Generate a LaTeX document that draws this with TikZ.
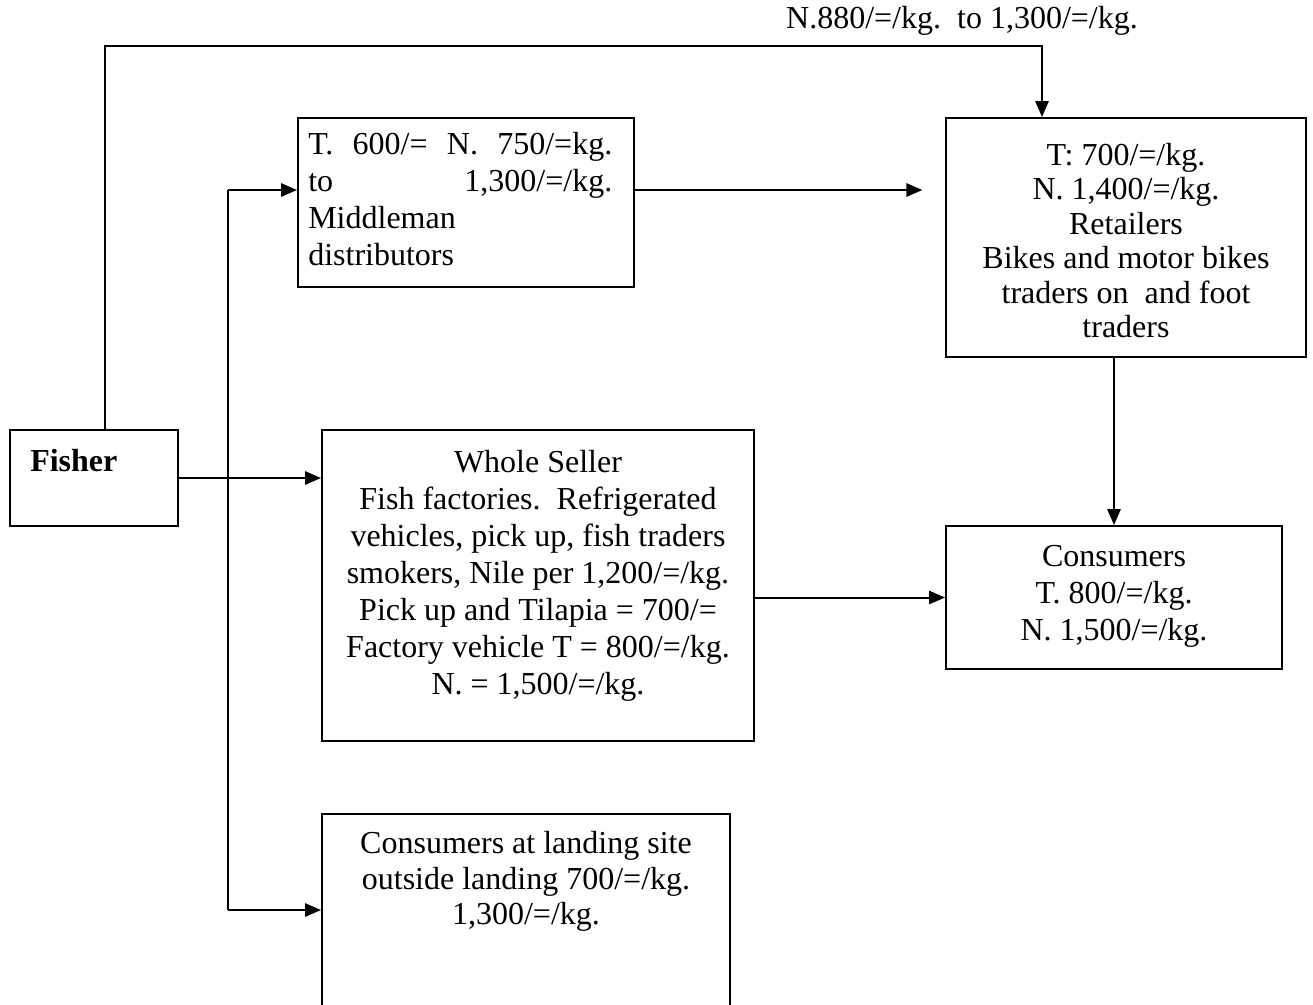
\documentclass[tikz,border=0pt]{standalone}
\usepackage{fontspec}
\setmainfont{Liberation Serif}
\usetikzlibrary{arrows.meta,positioning}

\begin{document}
\begin{tikzpicture}[x=0.75pt,y=-0.75pt,
    box/.style={draw,line width=1.5pt,inner sep=0pt},
    txt/.style={inner sep=0pt,font=\fontsize{24}{27.8}\selectfont,
        execute at begin node={\rule{0pt}{18pt}}},
    arr/.style={line width=1.5pt,-{Triangle[length=12pt,width=10pt]}}]
    \useasboundingbox (0,0) rectangle (1313,1004);
    %% boxes
    \node[box,minimum width=126pt,minimum height=72pt] (fisher) at (94,478) {};
    \node[box,minimum width=252pt,minimum height=126.75pt] (mid) at (466,202.5) {};
    \node[box,minimum width=270pt,minimum height=179.25pt] (ret) at (1126,237.5) {};
    \node[box,minimum width=324pt,minimum height=233.25pt] (whole) at (538,585.5) {};
    \node[box,minimum width=252pt,minimum height=107.25pt] (cons) at (1114,597.5) {};
    \node[box,minimum width=306pt,minimum height=172.5pt] (land) at (526,929) {};
    %% texts
    \node[txt,anchor=north west] (fisher-t) at (30,447) {\bfseries Fisher};
    \node[txt,anchor=north west,align=left] (mid-t) at (308,132)
        {\makebox[228pt][s]{T.\ \ 600/=\ \ N.\ \ 750/=kg.}\\
         \makebox[228pt][s]{to 1,300/=/kg.}\\
         Middleman\\
         distributors};
    \node[txt,anchor=north,align=center,font=\fontsize{24}{25.8}\selectfont] (ret-t) at (1126,143)
        {T: 700/=/kg.\\ N. 1,400/=/kg.\\ Retailers\\ Bikes and motor bikes\\
         traders on\ \ and foot\\ traders};
    \node[txt,anchor=north,align=center] (whole-t) at (538,450)
        {Whole Seller\\ Fish factories.\ \ Refrigerated\\ vehicles, pick up, fish traders\\
         smokers, Nile per 1,200/=/kg.\\ Pick up and Tilapia = 700/=\\
         Factory vehicle T = 800/=/kg.\\ N. = 1,500/=/kg.};
    \node[txt,anchor=north,align=center] (cons-t) at (1114,545)
        {Consumers\\ T. 800/=/kg.\\ N. 1,500/=/kg.};
    \node[txt,anchor=north,align=center,font=\fontsize{24}{26.8}\selectfont] (land-t) at (526,831)
        {Consumers at landing site\\ outside landing 700/=/kg.\\ 1,300/=/kg.};
    \node[txt,anchor=base] (price) at (962,28) {N.880/=/kg.\ \ to 1,300/=/kg.};
    %% connectors
    \coordinate (topl) at (105,46);
    \coordinate (topr) at (1042,46);
    \coordinate (split) at (228,190);
    \coordinate (splitend) at (228,910);
    \draw[arr] (fisher.north -| topl) -- (topl) -- (topr) -- (topr |- ret.north);
    \draw[line width=1.5pt] (split) -- (splitend);
    \draw[arr] (split) -- (split -| mid.west);
    \draw[arr] (splitend) -- (splitend -| land.west);
    \draw[arr] (fisher.east) -- (fisher.east -| whole.west);
    \draw[arr,shorten >=17pt] (split -| mid.east) -- (split -| ret.west);
    \draw[arr] (cons.north |- ret.south) -- (cons.north);
    \draw[arr] (cons.west -| whole.east) -- (cons.west);
\end{tikzpicture}
\end{document}
